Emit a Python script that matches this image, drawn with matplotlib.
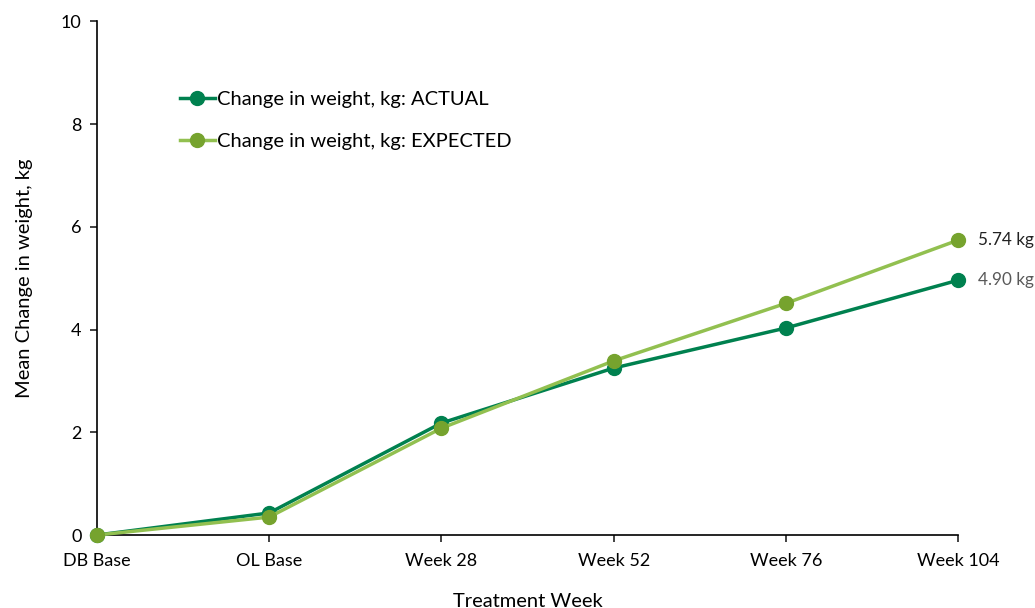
import matplotlib.pyplot as plt

plt.rcParams['font.family'] = ['Lato', 'DejaVu Sans']

# ---- data ----
weeks = ['DB Base', 'OL Base', 'Week 28', 'Week 52', 'Week 76', 'Week 104']
actual = [0.0, 0.43, 2.18, 3.25, 4.03, 4.96]
expected = [0.0, 0.35, 2.08, 3.39, 4.51, 5.74]
end_labels = ['4.90 kg', '5.74 kg']

actual_color = '#00814F'
expected_line = '#92C050'
expected_marker = '#76A32E'

fig = plt.figure(figsize=(10.35, 6.08), dpi=100)
ax = fig.add_axes([0.0937, 0.120, 0.832, 0.845])

x = list(range(len(weeks)))
ax.plot(x, actual, color=actual_color, linewidth=2.5, marker='o', markersize=10,
        markerfacecolor=actual_color, markeredgecolor=actual_color,
        label='Change in weight, kg: ACTUAL', clip_on=False, zorder=3)
ax.plot(x, expected, color=expected_line, linewidth=2.5, marker='o', markersize=10,
        markerfacecolor=expected_marker, markeredgecolor=expected_marker,
        label='Change in weight, kg: EXPECTED', clip_on=False, zorder=4)

ax.annotate(end_labels[1], (x[-1], expected[-1]), xytext=(14, 0), textcoords='offset points',
            va='center', ha='left', fontsize=12.3, color='#222222')
ax.annotate(end_labels[0], (x[-1], actual[-1]), xytext=(14, 0), textcoords='offset points',
            va='center', ha='left', fontsize=12.3, color='#595959')

ax.set_xlim(0, len(weeks) - 1)
ax.set_ylim(0, 10)
ax.set_yticks([0, 2, 4, 6, 8, 10])
ax.set_xticks(x)
ax.set_xticklabels(weeks)
ax.tick_params(axis='both', labelsize=13, length=5, width=1.2, color='#222222')
ax.tick_params(axis='x', pad=8)
ax.tick_params(axis='y', pad=6)
ax.spines['top'].set_visible(False)
ax.spines['right'].set_visible(False)
ax.spines['left'].set_linewidth(1.2)
ax.spines['bottom'].set_linewidth(1.2)

ax.set_xlabel('Treatment Week', fontsize=14.5, labelpad=17)
ax.set_ylabel('Mean Change in weight, kg', fontsize=14.5, labelpad=20)

ax.legend(loc='upper left', bbox_to_anchor=(0.075, 0.9), frameon=False, fontsize=14.5,
          handlelength=1.75, handletextpad=0.1, labelspacing=1.25)

fig.savefig('out.png', dpi=100, facecolor='white')
